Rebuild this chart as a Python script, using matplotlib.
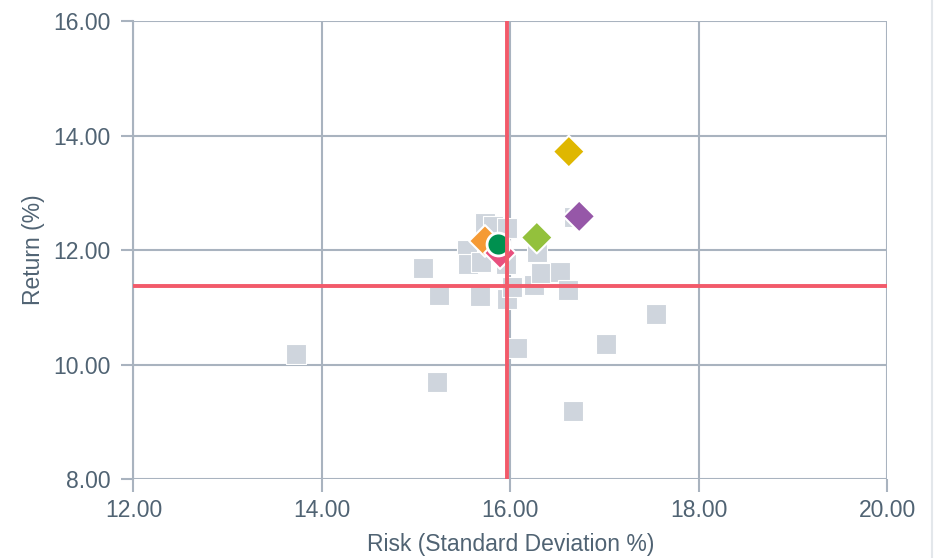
import matplotlib.pyplot as plt

plt.rcParams['font.family'] = ['Liberation Sans', 'DejaVu Sans']

# peer funds (grey squares): risk %, return %
peer_risk = [13.72, 15.07, 15.24, 15.22, 15.54, 15.55, 15.69, 15.68, 15.73, 15.82,
             15.96, 15.95, 15.96, 16.02, 16.07, 16.25, 16.28, 16.32, 16.53, 16.61,
             16.66, 16.67, 17.01, 17.54]
peer_return = [10.19, 11.69, 11.22, 9.70, 12.00, 11.76, 11.80, 11.20, 12.47, 12.42,
               12.39, 11.76, 11.14, 11.35, 10.30, 11.40, 11.97, 11.60, 11.61, 11.31,
               9.19, 12.57, 10.37, 10.89]

# highlighted funds (diamonds)
fund_risk = [16.62, 16.73, 16.28, 15.73, 15.89]
fund_return = [13.72, 12.59, 12.22, 12.16, 11.95]
fund_colors = ['#dfb700', '#9657a8', '#93c13c', '#f59a35', '#e8507e']

# benchmark (circle)
bench_risk = [15.87]
bench_return = [12.11]

# average lines
avg_risk = 15.96
avg_return = 11.37

xticks = [12, 14, 16, 18, 20]
yticks = [8, 10, 12, 14, 16]

text_color = '#506373'
grid_color = '#a9b3bf'

fig = plt.figure(figsize=(9.38, 5.58), dpi=100)
ax = fig.add_axes([0.1423, 0.141, 0.8037, 0.8214])

ax.scatter(peer_risk, peer_return, marker='s', s=15 ** 2, color='#cfd5dd',
           edgecolors='white', linewidths=0.8, zorder=3)
ax.scatter(fund_risk, fund_return, marker='D', s=16.2 ** 2, c=fund_colors,
           edgecolors='white', linewidths=1.5, zorder=4)
ax.scatter(bench_risk, bench_return, marker='o', s=16.5 ** 2, color='#00904f',
           edgecolors='white', linewidths=2, zorder=5)

ax.axvline(avg_risk, color='#f25a6a', lw=2.8, zorder=6)
ax.axhline(avg_return, color='#f25a6a', lw=2.8, zorder=6)

ax.set_xlim(12, 20)
ax.set_ylim(8, 16)
ax.set_xticks(xticks)
ax.set_yticks(yticks)
ax.set_xticklabels([f'{v:.2f}' for v in xticks])
ax.set_yticklabels([f'{v:.2f}' for v in yticks])
ax.grid(True, color=grid_color, lw=1.5, zorder=1)
ax.set_axisbelow(True)

for side in ['top', 'right', 'bottom']:
    ax.spines[side].set_visible(False)
ax.spines['left'].set_color(grid_color)
ax.spines['left'].set_linewidth(1.5)

ax.tick_params(axis='x', length=9, width=1.5, color=grid_color, pad=5,
               labelsize=16.5, labelcolor=text_color)
ax.tick_params(axis='y', length=8.5, width=1.5, color=grid_color, pad=8,
               labelsize=16.5, labelcolor=text_color)

ax.set_xlabel('Risk (Standard Deviation %)', fontsize=16.5, color=text_color, labelpad=8)
ax.set_ylabel('Return (%)', fontsize=16.5, color=text_color, labelpad=6)

# faint container edge on the right
fig.add_artist(plt.Line2D([0.9935, 0.9935], [0, 1], color='#e3e7eb', lw=1.5))

fig.savefig('out.png', dpi=100)
